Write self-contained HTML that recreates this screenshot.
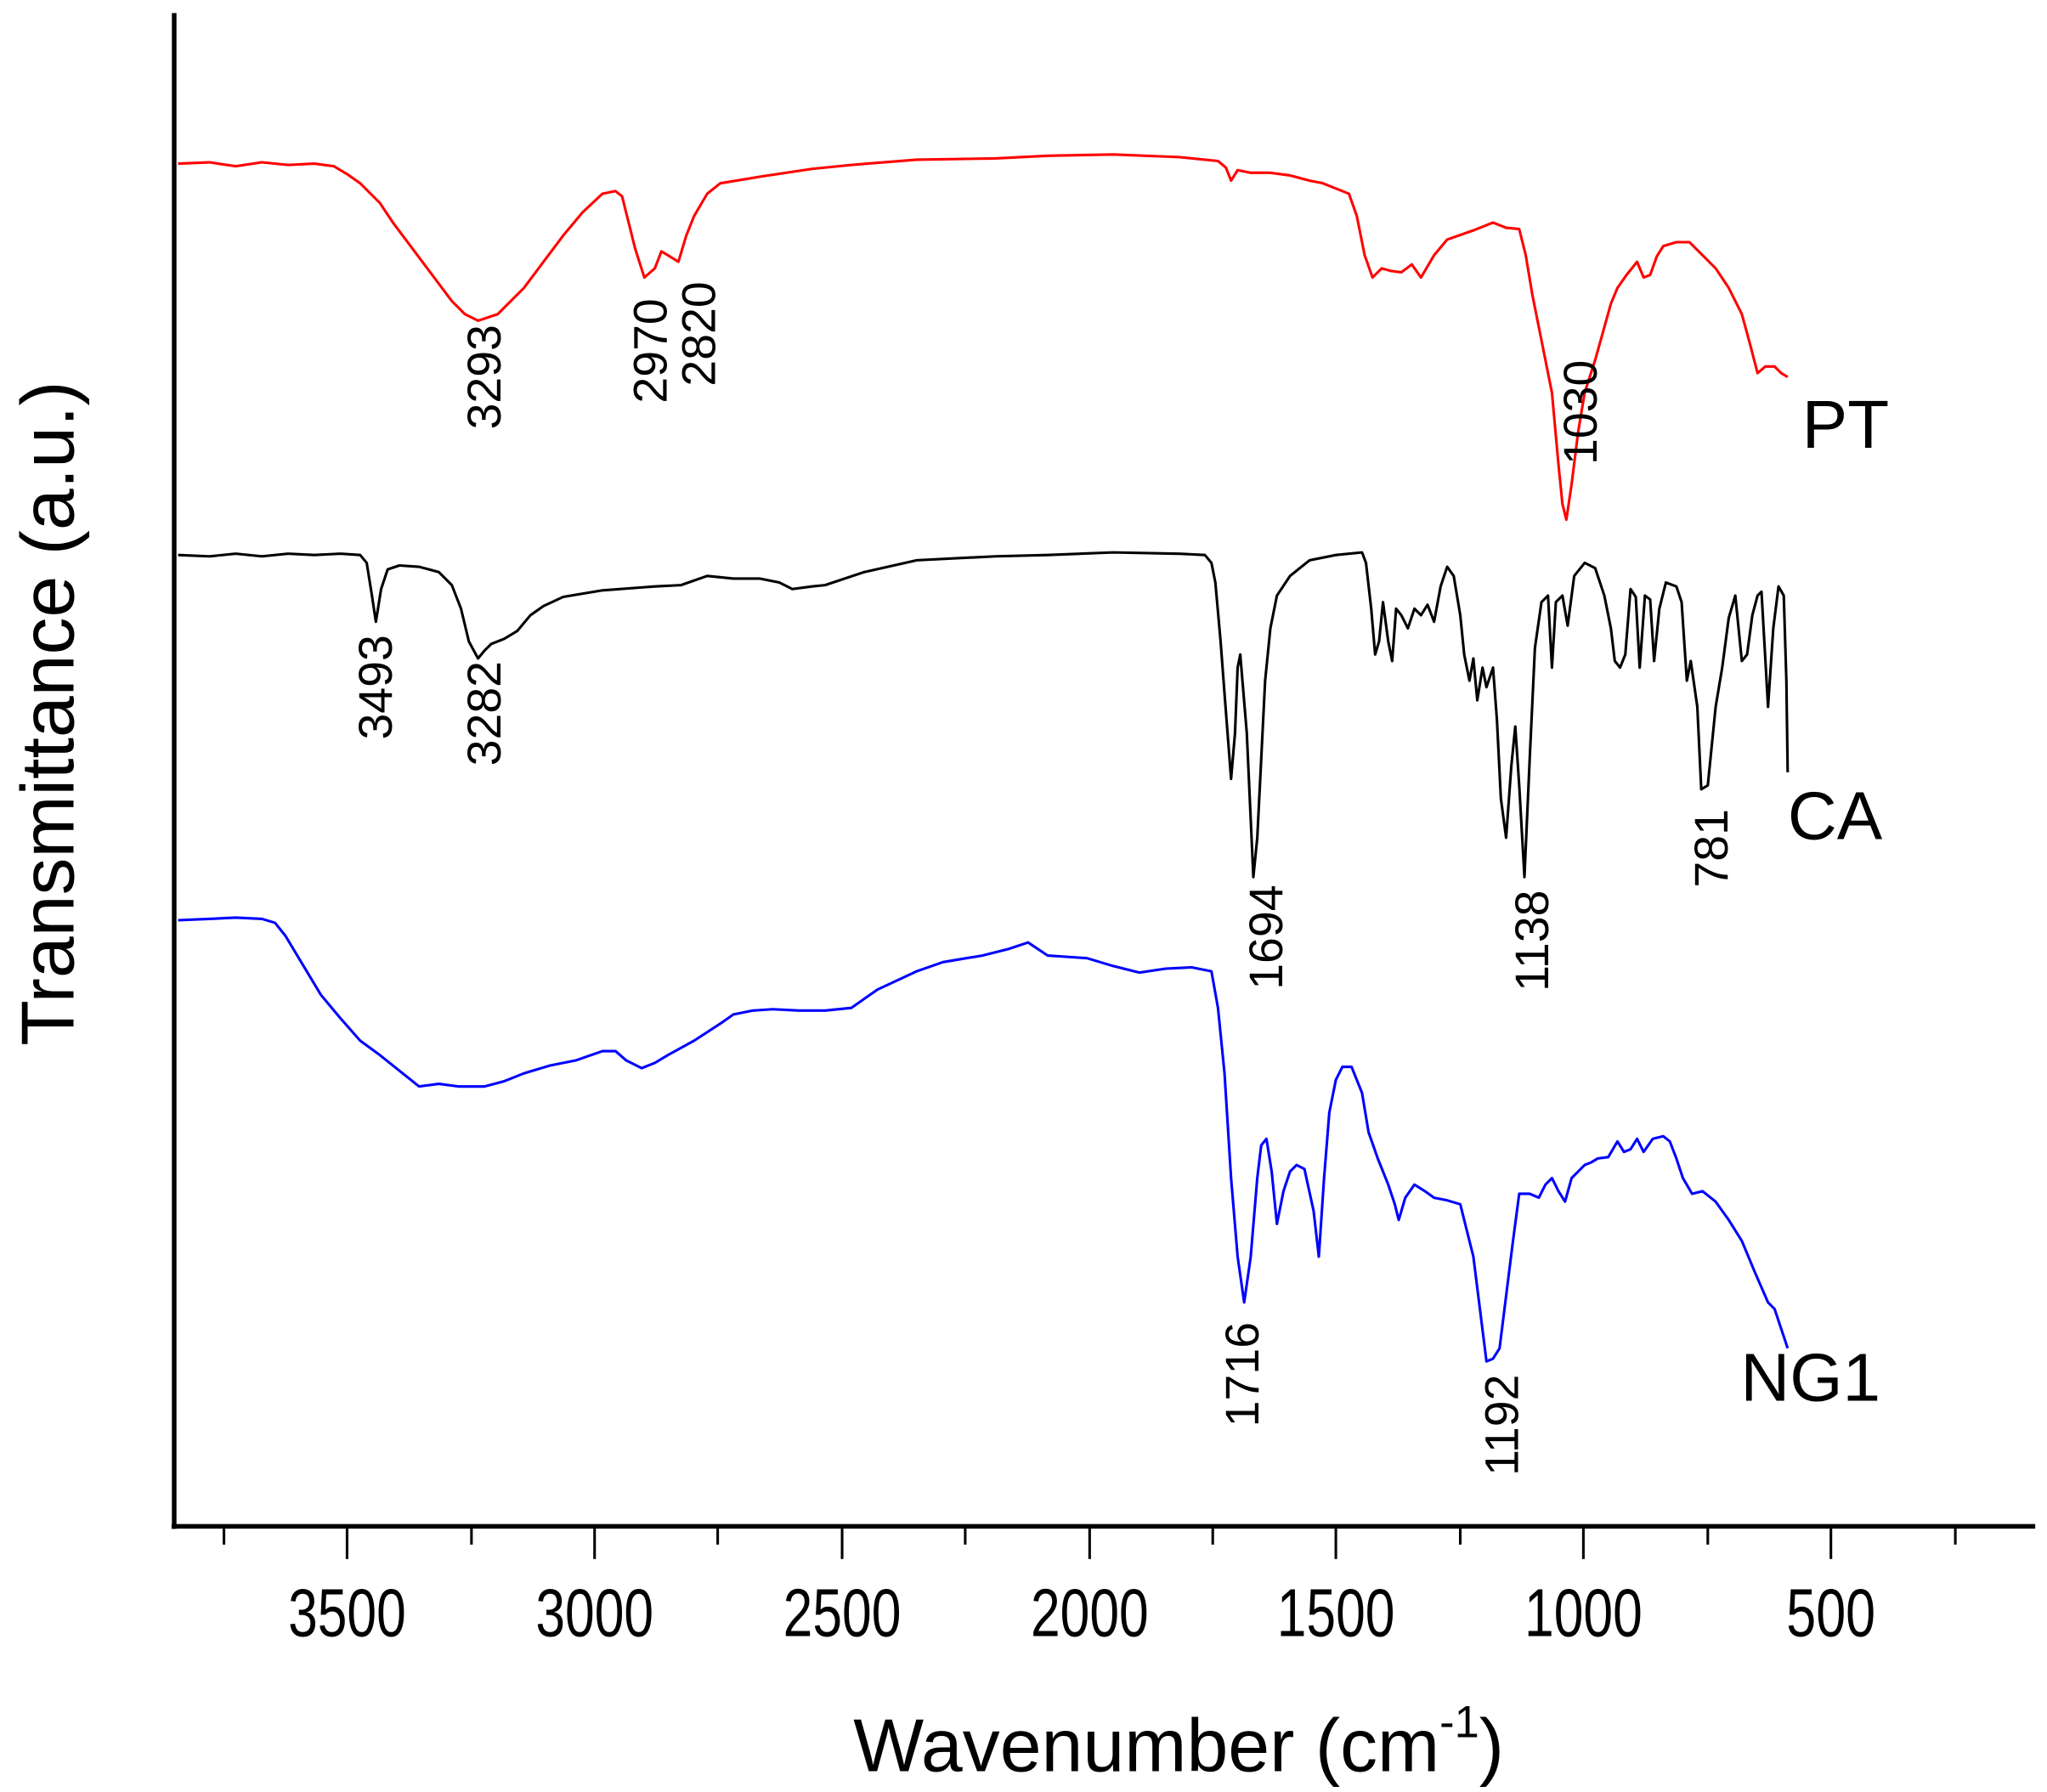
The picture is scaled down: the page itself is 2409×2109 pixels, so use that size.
<!DOCTYPE html>
<html><head><meta charset="utf-8"><style>html,body{margin:0;padding:0;background:#fff}svg{display:block}</style></head>
<body>
<svg width="2409" height="2109" viewBox="0 0 1563 1369" preserveAspectRatio="none" xmlns="http://www.w3.org/2000/svg" font-family="Liberation Sans, Arial, sans-serif">
<rect width="1563" height="1369" fill="#fff"/>
<line x1="133" y1="10" x2="133" y2="1168" stroke="#000" stroke-width="3.5"/>
<line x1="131" y1="1166" x2="1554" y2="1166" stroke="#000" stroke-width="3.5"/>
<g stroke="#000" stroke-width="2">
<line x1="265" y1="1166" x2="265" y2="1191"/><line x1="454" y1="1166" x2="454" y2="1191"/>
<line x1="643" y1="1166" x2="643" y2="1191"/><line x1="832" y1="1166" x2="832" y2="1191"/>
<line x1="1020" y1="1166" x2="1020" y2="1191"/><line x1="1209" y1="1166" x2="1209" y2="1191"/>
<line x1="1398" y1="1166" x2="1398" y2="1191"/>
<line x1="171" y1="1166" x2="171" y2="1180"/><line x1="360" y1="1166" x2="360" y2="1180"/>
<line x1="548" y1="1166" x2="548" y2="1180"/><line x1="737" y1="1166" x2="737" y2="1180"/>
<line x1="926" y1="1166" x2="926" y2="1180"/><line x1="1115" y1="1166" x2="1115" y2="1180"/>
<line x1="1304" y1="1166" x2="1304" y2="1180"/><line x1="1493" y1="1166" x2="1493" y2="1180"/>
</g>
<g font-size="52" text-anchor="middle" fill="#000" lengthAdjust="spacingAndGlyphs">
<text x="265" y="1250" textLength="90" lengthAdjust="spacingAndGlyphs">3500</text>
<text x="454" y="1250" textLength="90" lengthAdjust="spacingAndGlyphs">3000</text>
<text x="643" y="1250" textLength="90" lengthAdjust="spacingAndGlyphs">2500</text>
<text x="832" y="1250" textLength="90" lengthAdjust="spacingAndGlyphs">2000</text>
<text x="1020" y="1250" textLength="90" lengthAdjust="spacingAndGlyphs">1500</text>
<text x="1209" y="1250" textLength="90" lengthAdjust="spacingAndGlyphs">1000</text>
<text x="1398" y="1250" textLength="68" lengthAdjust="spacingAndGlyphs">500</text>
</g>
<text x="900" y="1353" font-size="57" text-anchor="middle">Wavenumber (cm<tspan font-size="34" dy="-26">-1</tspan><tspan dy="26">)</tspan></text>
<text transform="translate(56,545) rotate(-90)" font-size="57" text-anchor="middle">Transmittance (a.u.)</text>

<g fill="none" stroke-width="2" stroke-linejoin="round">
<polyline stroke="#ff0000" points="136,125 160,124 180,127 200,124 220,126 240,125 255,127 265,133 275,140 290,155 300,170 315,190 330,210 345,230 355,240 365,245 380,240 400,220 415,200 430,180 445,162 460,148 470,146 475,150 480,170 485,190 492,212 500,205 505,192 510,195 518,200 524,180 530,165 540,148 550,140 580,135 620,129 650,126 700,122 760,121 800,119 850,118 900,120 930,123 936,128 940,138 945,130 955,132 970,132 985,134 1000,138 1010,140 1030,148 1036,165 1042,195 1048,212 1055,205 1062,207 1070,208 1078,202 1085,212 1095,195 1105,183 1125,176 1140,170 1150,174 1160,175 1165,195 1170,225 1175,250 1185,300 1190,355 1193,385 1196,397 1200,370 1205,330 1210,300 1218,275 1225,250 1230,232 1235,220 1242,210 1250,200 1255,212 1260,210 1265,196 1270,188 1280,185 1290,185 1300,195 1310,205 1320,220 1330,240 1336,262 1342,285 1348,280 1355,280 1360,285 1365,288"/>
<polyline stroke="#000" points="136,424 160,425 180,423 200,425 220,423 240,424 260,423 275,424 280,430 284,455 287,475 291,450 296,435 305,432 320,433 335,437 345,447 352,465 358,490 365,503 370,497 375,492 385,488 395,482 405,470 415,463 430,456 460,451 500,448 520,447 540,440 560,442 580,442 595,445 605,450 620,448 630,447 660,437 700,428 760,425 800,424 850,422 900,423 920,424 925,430 928,445 932,490 935,530 940,595 943,560 945,510 947,500 952,560 957,670 960,640 963,580 966,520 970,480 975,455 985,440 1000,428 1020,424 1040,422 1043,430 1047,465 1050,500 1053,490 1056,460 1060,490 1063,505 1066,465 1070,470 1075,480 1080,465 1085,470 1090,462 1095,475 1100,448 1105,433 1110,440 1115,470 1118,500 1122,520 1125,503 1128,535 1132,510 1135,525 1140,510 1143,550 1146,610 1150,640 1154,585 1157,555 1160,600 1164,670 1168,580 1172,495 1177,460 1182,455 1185,510 1188,460 1193,455 1197,478 1202,440 1210,430 1218,434 1225,455 1230,480 1233,505 1237,510 1241,500 1245,450 1249,456 1252,510 1256,455 1260,458 1263,505 1267,465 1272,445 1280,448 1284,460 1288,520 1291,505 1296,540 1299,603 1304,600 1310,540 1315,510 1320,472 1325,455 1330,505 1334,500 1338,470 1342,455 1345,452 1350,540 1354,480 1358,448 1362,455 1364,520 1365,590"/>
<polyline stroke="#0000ff" points="136,703 160,702 180,701 200,702 210,705 218,715 230,735 245,760 260,778 275,795 290,806 305,818 320,830 335,828 350,830 370,830 385,826 400,820 420,814 440,810 460,803 470,803 478,810 490,816 500,812 510,806 530,795 550,782 560,775 575,772 590,771 610,772 630,772 650,770 670,756 700,742 720,735 750,730 770,725 785,720 800,730 815,731 830,732 850,738 870,743 890,740 910,739 925,742 930,770 935,820 940,900 945,960 950,995 955,960 960,900 963,875 967,870 971,895 975,935 980,910 985,895 990,890 996,893 1003,925 1007,960 1011,900 1015,850 1020,825 1025,815 1032,815 1040,835 1045,865 1052,885 1060,905 1065,920 1068,932 1073,915 1080,905 1088,910 1095,915 1105,917 1115,920 1120,940 1125,960 1130,1000 1135,1040 1140,1038 1145,1030 1150,990 1155,950 1160,912 1168,912 1175,915 1180,905 1185,900 1190,910 1195,918 1200,900 1205,895 1210,890 1215,888 1220,885 1228,884 1235,872 1240,880 1245,878 1250,870 1255,880 1262,870 1270,868 1275,872 1280,885 1285,900 1292,912 1300,910 1310,918 1320,932 1330,948 1340,972 1350,995 1355,1000 1360,1015 1365,1030"/>
</g>

<g font-size="52" fill="#000">
<text x="1376" y="342">PT</text>
<text x="1365" y="641">CA</text>
<text x="1329" y="1070">NG1</text>
</g>
<g font-size="36" fill="#000" text-anchor="end">
<text transform="translate(382,248) rotate(-90)">3293</text>
<text transform="translate(509,228) rotate(-90)">2970</text>
<text transform="translate(546,215) rotate(-90)">2820</text>
<text transform="translate(1219,275) rotate(-90)">1030</text>
<text transform="translate(299,485) rotate(-90)">3493</text>
<text transform="translate(382,505) rotate(-90)">3282</text>
<text transform="translate(979,676) rotate(-90)">1694</text>
<text transform="translate(1182,680) rotate(-90)">1138</text>
<text transform="translate(1319,618) rotate(-90)">781</text>
<text transform="translate(961,1010) rotate(-90)">1716</text>
<text transform="translate(1159,1050) rotate(-90)">1192</text>
</g>
</svg>
</body></html>
